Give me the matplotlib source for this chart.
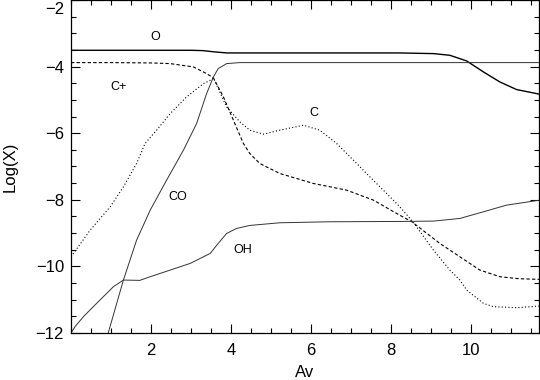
import matplotlib
matplotlib.use("Agg")
import matplotlib.pyplot as plt
from matplotlib.ticker import MultipleLocator
from matplotlib.transforms import ScaledTranslation

plt.rcParams['font.family'] = ['Liberation Sans', 'DejaVu Sans']

# abundances, (Av, log X)
o_av = [0.0, 1.0, 2.0, 3.0, 3.3, 3.6, 3.9, 5.0, 7.0, 8.2, 9.06, 9.47, 9.89, 10.31, 10.72, 11.14, 11.72]
o_x = [-3.51, -3.51, -3.51, -3.51, -3.52, -3.56, -3.59, -3.59, -3.59, -3.59, -3.61, -3.66, -3.83, -4.16, -4.46, -4.69, -4.83]

cp_av = [0.0, 1.0, 2.0, 2.48, 3.06, 3.39, 3.56, 3.81, 4.06, 4.31, 4.47, 4.72, 5.22, 6.06, 6.89, 7.56, 8.14, 8.52,
         9.22, 9.72, 10.22, 10.72, 11.2, 11.72]
cp_x = [-3.88, -3.88, -3.89, -3.91, -4.01, -4.21, -4.34, -4.91, -5.61, -6.31, -6.61, -6.91, -7.21, -7.51, -7.71, -8.01, -8.41, -8.66,
        -9.31, -9.71, -10.11, -10.31, -10.37, -10.39]

c_av = [0.0, 0.48, 0.98, 1.31, 1.64, 1.85, 2.14, 2.48, 2.89, 3.31, 3.48, 3.56, 3.89, 4.22, 4.47, 4.81, 5.22, 5.81, 6.22,
        6.64, 7.06, 7.47, 7.89, 8.22, 8.56, 9.06, 9.47, 9.72, 9.89, 10.31, 10.56, 11.14, 11.72]
c_x = [-9.71, -8.91, -8.21, -7.61, -6.91, -6.31, -5.91, -5.41, -4.91, -4.51, -4.41, -4.34, -5.21, -5.66, -5.91, -6.03, -5.91, -5.76, -5.91,
       -6.31, -6.81, -7.31, -7.81, -8.21, -8.68, -9.51, -10.11, -10.41, -10.71, -11.11, -11.21, -11.24, -11.19]

co_av = [0.93, 1.31, 1.64, 1.98, 2.39, 2.81, 3.14, 3.39, 3.56, 3.68, 3.89, 4.22, 5.0, 7.0, 9.0, 11.72]
co_x = [-12.0, -10.41, -9.21, -8.31, -7.41, -6.51, -5.71, -4.81, -4.31, -4.06, -3.91, -3.88, -3.88, -3.88, -3.88, -3.88]

oh_av = [0.0, 0.1, 0.31, 0.64, 1.06, 1.31, 1.72, 1.98, 2.48, 2.98, 3.48, 3.68, 3.89, 4.14, 4.47, 5.22, 6.47, 8.22,
         9.06, 9.72, 10.31, 10.89, 11.72]
oh_x = [-12.0, -11.81, -11.51, -11.11, -10.61, -10.41, -10.42, -10.31, -10.11, -9.91, -9.61, -9.31, -9.01, -8.86, -8.77, -8.69, -8.66, -8.65,
        -8.64, -8.56, -8.36, -8.16, -8.01]

labels = ["O", "C+", "C", "CO", "OH"]
label_av = [2.1, 1.18, 6.08, 2.68, 4.3]
label_x = [-3.1, -4.62, -5.4, -7.92, -9.5]

fig = plt.figure(figsize=(5.4, 3.8), dpi=100)
ax = fig.add_axes([0.1315, 0.1237, 0.8667, 0.8763])

ax.plot(o_av, o_x, color='black', lw=1.0, ls='-')
ax.plot(cp_av, cp_x, color='black', lw=0.8, ls=(0, (3, 2)))
ax.plot(c_av, c_x, color='black', lw=0.8, ls=(0, (1, 2)))
ax.plot(co_av, co_x, color='#333333', lw=0.7, ls='-')
ax.plot(oh_av, oh_x, color='#333333', lw=0.7, ls='-')

for name, xa, ya in zip(labels, label_av, label_x):
    ax.text(xa, ya, name, fontsize=9, ha='center', va='center')

ax.set_xlim(0, 11.7)
ax.set_ylim(-12, -2)
ax.set_xticks([2, 4, 6, 8, 10])
ax.set_yticks([-12, -10, -8, -6, -4, -2])
ax.xaxis.set_minor_locator(MultipleLocator(0.5))
ax.yaxis.set_minor_locator(MultipleLocator(0.5))
ax.tick_params(which='both', direction='in', top=True, right=True, labelsize=12)
ax.tick_params(axis='x', which='major', pad=7)
ax.tick_params(axis='y', which='major', pad=5)
ax.tick_params(which='major', length=6.5, width=0.8)
ax.tick_params(which='minor', length=3.5, width=0.8)
ax.set_xlabel("Av", fontsize=12, va='center')
ax.set_ylabel("Log(X)", fontsize=12, va='center')
ax.xaxis.set_label_coords(0.5, -0.12)
ax.yaxis.set_label_coords(-0.13, 0.5)
for s in ax.spines.values():
    s.set_linewidth(0.9)

# top label sits a little lower in the reference so it is not clipped
top_lbl = ax.yaxis.get_major_ticks()[-1].label1
top_lbl.set_transform(top_lbl.get_transform() + ScaledTranslation(0, -0.08, fig.dpi_scale_trans))

fig.savefig("out.png", dpi=100)
